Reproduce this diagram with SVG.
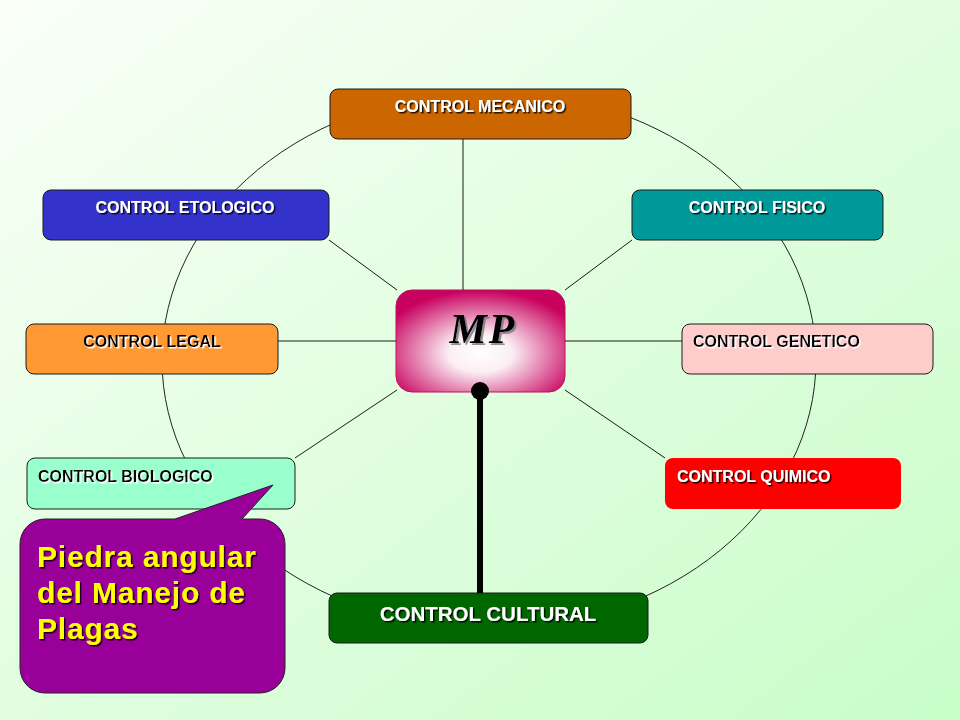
<svg xmlns="http://www.w3.org/2000/svg" width="960" height="720" viewBox="0 0 960 720">
  <defs>
    <linearGradient id="bg" x1="0" y1="0" x2="1" y2="1">
      <stop offset="0" stop-color="#FAFFF8"/>
      <stop offset="1" stop-color="#C8FDC8"/>
    </linearGradient>
    <radialGradient id="mpfill" cx="0.5" cy="0.62" r="0.62">
      <stop offset="0" stop-color="#FFFFFF"/>
      <stop offset="0.3" stop-color="#FBEFF4"/>
      <stop offset="1" stop-color="#C8005E"/>
    </radialGradient>
    <filter id="sdark" x="-10%" y="-30%" width="120%" height="160%">
      <feDropShadow dx="1.5" dy="1.5" stdDeviation="0.4" flood-color="#000" flood-opacity="0.85"/>
    </filter>
    <filter id="slight" x="-10%" y="-30%" width="120%" height="160%">
      <feDropShadow dx="1.5" dy="1.5" stdDeviation="0.3" flood-color="#FFF" flood-opacity="1"/>
    </filter>
    <filter id="sgrey" x="-20%" y="-30%" width="140%" height="160%">
      <feDropShadow dx="2" dy="2" stdDeviation="0.6" flood-color="#777" flood-opacity="0.8"/>
    </filter>
    <marker id="dot" markerUnits="userSpaceOnUse" markerWidth="20" markerHeight="20" refX="10" refY="10" orient="auto">
      <circle cx="10" cy="10" r="9" fill="#000"/>
    </marker>
    <style>
      .box { stroke: #1a1a1a; stroke-width: 1; }
      .lbl { font-family: "Liberation Sans", Arial, sans-serif; font-weight: bold; font-size: 16px; }
      .w { fill: #FFFFFF; filter: url(#sdark); }
      .k { fill: #000000; filter: url(#slight); }
      .spoke { stroke: #1a1a1a; stroke-width: 1; fill: none; }
      .callt { font-family: "Liberation Sans", Arial, sans-serif; font-weight: bold; font-size: 30px; letter-spacing: 0.8px; fill: #FFFF00; filter: url(#sdark); }
    </style>
  </defs>

  <rect x="0" y="0" width="960" height="720" fill="url(#bg)"/>

  <g id="ring">
    <ellipse cx="489" cy="360" rx="327" ry="269" fill="none" stroke="#222" stroke-width="1"/>
  </g>

  <g id="node-mp">
    <rect x="396" y="290" width="169" height="102" rx="16" fill="url(#mpfill)" stroke="#C0105A" stroke-width="1"/>
    <text x="483" y="343" text-anchor="middle" font-family="Liberation Serif, DejaVu Serif, serif" font-style="italic" font-weight="bold" font-size="42" letter-spacing="2" fill="#000" filter="url(#sgrey)">MP</text>
  </g>

  <g id="node-mecanico">
    <rect class="box" x="330" y="89" width="301" height="50" rx="8" fill="#CC6600"/>
    <text class="lbl w" x="480" y="111.5" text-anchor="middle">CONTROL MECANICO</text>
  </g>

  <g id="node-etologico">
    <rect class="box" x="43" y="190" width="286" height="50" rx="8" fill="#3333CC"/>
    <text class="lbl w" x="185" y="212.5" text-anchor="middle">CONTROL ETOLOGICO</text>
  </g>

  <g id="node-fisico">
    <rect class="box" x="632" y="190" width="251" height="50" rx="8" fill="#009999"/>
    <text class="lbl w" x="757" y="213" text-anchor="middle">CONTROL FISICO</text>
  </g>

  <g id="node-legal">
    <rect class="box" x="26" y="324" width="252" height="50" rx="8" fill="#FF9933"/>
    <text class="lbl k" x="152" y="346.5" text-anchor="middle">CONTROL LEGAL</text>
  </g>

  <g id="node-genetico">
    <rect class="box" x="682" y="324" width="251" height="50" rx="8" fill="#FFCCCC"/>
    <text class="lbl k" x="693" y="347">CONTROL GENETICO</text>
  </g>

  <g id="node-biologico">
    <rect class="box" x="27" y="458" width="268" height="51" rx="8" fill="#99FFCC"/>
    <text class="lbl k" x="38" y="482">CONTROL BIOLOGICO</text>
  </g>

  <g id="node-quimico">
    <rect x="665" y="458" width="236" height="51" rx="8" fill="#FF0000"/>
    <text class="lbl w" x="677" y="482">CONTROL QUIMICO</text>
  </g>

  <g id="node-cultural">
    <rect class="box" x="329" y="593" width="319" height="50" rx="8" fill="#006600"/>
    <text class="lbl w" x="488" y="621" text-anchor="middle" style="font-size:20.5px">CONTROL CULTURAL</text>
  </g>

  <g id="connectors">
    <line class="spoke" x1="463" y1="139" x2="463" y2="290"/>
    <line class="spoke" x1="329" y1="240" x2="397" y2="290"/>
    <line class="spoke" x1="632" y1="240" x2="565" y2="290"/>
    <line class="spoke" x1="278" y1="341" x2="396" y2="341"/>
    <line class="spoke" x1="565" y1="341" x2="682" y2="341"/>
    <line class="spoke" x1="295" y1="458" x2="397" y2="390"/>
    <line class="spoke" x1="665" y1="458" x2="565" y2="390"/>
    <line x1="480" y1="391" x2="480" y2="593" stroke="#000" stroke-width="6" marker-start="url(#dot)"/>
  </g>

  <g id="node-callout">
    <path d="M45 519 L175 519 L273 485 L242 519 L260 519 A25 25 0 0 1 285 544 L285 668 A25 25 0 0 1 260 693 L45 693 A25 25 0 0 1 20 668 L20 544 A25 25 0 0 1 45 519 Z" fill="#990099" stroke="#222" stroke-width="1"/>
    <text class="callt" x="37" y="567">Piedra angular</text>
    <text class="callt" x="37" y="603">del Manejo de</text>
    <text class="callt" x="37" y="639">Plagas</text>
  </g>
</svg>
